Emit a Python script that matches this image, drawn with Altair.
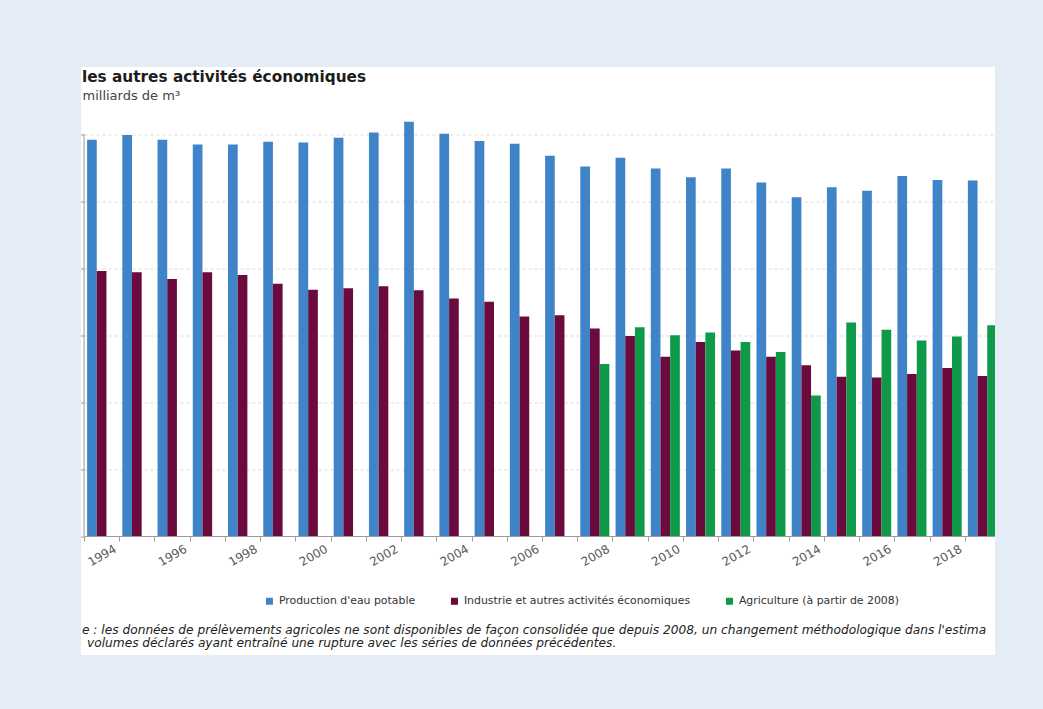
import altair as alt
import pandas as pd

# Annual water withdrawals, in billions of m3
ANNEES = [str(a) for a in range(1994, 2020)]
SERIES = [
    "Production d'eau potable",
    "Industrie et autres activités économiques",
    "Agriculture (à partir de 2008)",
]
COULEURS = ["#3f84c8", "#6b0a3c", "#0f9a4a"]

EAU_POTABLE = [5.92, 5.99, 5.92, 5.85, 5.85, 5.89, 5.88, 5.95, 6.03, 6.19,
               6.01, 5.90, 5.86, 5.68, 5.52, 5.65, 5.49, 5.36, 5.49, 5.28,
               5.06, 5.21, 5.16, 5.38, 5.32, 5.31]
INDUSTRIE = [3.96, 3.94, 3.84, 3.94, 3.90, 3.77, 3.68, 3.70, 3.73, 3.67,
             3.55, 3.50, 3.28, 3.30, 3.10, 2.99, 2.68, 2.90, 2.77, 2.68,
             2.55, 2.38, 2.37, 2.42, 2.51, 2.39]
# agricultural withdrawals only consolidated from 2008 onwards
ANNEES_AGRI = [str(a) for a in range(2008, 2020)]
AGRICULTURE = [2.57, 3.12, 3.00, 3.04, 2.90, 2.75, 2.10, 3.19, 3.08, 2.92,
               2.98, 3.15]

TITRE = "les autres activités économiques"
SOUS_TITRE = "milliards de m³"
NOTE_1 = ("e : les données de prélèvements agricoles ne sont disponibles de façon "
          "consolidée que depuis 2008, un changement méthodologique dans l'estima")
NOTE_2 = ("volumes déclarés ayant entraîné une rupture avec les séries de "
          "données précédentes.")

rows = []
for a, v in zip(ANNEES, EAU_POTABLE):
    rows.append({"annee": a, "serie": SERIES[0], "valeur": v})
for a, v in zip(ANNEES, INDUSTRIE):
    rows.append({"annee": a, "serie": SERIES[1], "valeur": v})
for a, v in zip(ANNEES_AGRI, AGRICULTURE):
    rows.append({"annee": a, "serie": SERIES[2], "valeur": v})
df = pd.DataFrame(rows)

W = 916
H = 468.5
FOND = "#e4edf6"
GRIS = "#9a9a9a"

bars = alt.Chart(df).mark_bar().encode(
    x=alt.X(
        "annee:N",
        sort=ANNEES,
        scale=alt.Scale(domain=ANNEES, paddingInner=0, paddingOuter=0),
        axis=alt.Axis(
            title=None,
            labelAngle=330,
            labelAlign="center",
            labelBaseline="middle",
            labelPadding=14,
            labelOverlap=False,
            labelFont="DejaVu Sans",
            labelFontSize=12,
            labelColor="#5a5a5a",
            labelExpr="parseInt(datum.value) % 2 == 0 ? datum.value : ''",
            tickBand="extent",
            tickSize=5,
            tickColor=GRIS,
            domainColor=GRIS,
            grid=False,
        ),
    ),
    xOffset=alt.XOffset(
        "serie:N",
        sort=SERIES,
        scale=alt.Scale(domain=SERIES, paddingInner=0, paddingOuter=0.32),
    ),
    y=alt.Y(
        "valeur:Q",
        scale=alt.Scale(domain=[0, 7], nice=False),
        axis=alt.Axis(
            title=None,
            values=[0, 1, 2, 3, 4, 5, 6],
            labels=False,
            domain=False,
            tickSize=4,
            tickColor=GRIS,
            grid=True,
            gridColor="#dadada",
            gridDash=[3, 3],
            gridOpacity=alt.condition("datum.value === 0", alt.value(0), alt.value(1)),
        ),
    ),
    color=alt.Color(
        "serie:N",
        sort=SERIES,
        scale=alt.Scale(domain=SERIES, range=COULEURS),
        legend=alt.Legend(
            title=None,
            orient="none",
            legendX=180,
            legendY=528,
            direction="horizontal",
            columns=3,
            symbolType="square",
            symbolSize=49,
            symbolStrokeWidth=0,
            labelFont="DejaVu Sans",
            labelFontSize=10.9,
            labelColor="#333333",
            labelLimit=0,
            labelOffset=4,
            columnPadding=33,
            padding=0,
        ),
    ),
)

# vertical axis line, from 0 to 6
axe_y = alt.Chart(pd.DataFrame({"v": [0]})).mark_rule(color=GRIS).encode(
    x=alt.value(0), y=alt.datum(0), y2=alt.datum(6)
)


def texte(chaine, x, y, **style):
    return alt.Chart(pd.DataFrame({"t": [chaine]})).mark_text(
        align="left", baseline="alphabetic", **style
    ).encode(text="t:N", x=alt.value(x), y=alt.value(y))


titre = texte(TITRE, -2, 14, font="DejaVu Sans", fontWeight="bold",
              fontSize=15.3, color="#1c1c1c")
sous_titre = texte(SOUS_TITRE, -1.5, 32.5, font="DejaVu Sans",
                   fontSize=13, color="#444444")
note_1 = texte(NOTE_1, -2, 566, font="DejaVu Sans", fontStyle="italic",
               fontSize=12.2, color="#222222")
note_2 = texte(NOTE_2, 3, 579, font="DejaVu Sans", fontStyle="italic",
               fontSize=12.2, color="#222222")


def bande(x, x2, y, y2):
    return alt.Chart(pd.DataFrame({"v": [0]})).mark_rect(color=FOND).encode(
        x=alt.value(x), x2=alt.value(x2), y=alt.value(y), y2=alt.value(y2)
    )


# surrounding frame of the white panel
cadre = [
    bande(-300, -3, -300, 900),
    bande(911, 1300, -300, 900),
    bande(-300, 1300, -300, -0.5),
    bande(-300, 1300, 587.5, 900),
]

chart = alt.layer(bars, axe_y, titre, sous_titre, note_1, note_2, *cadre).properties(
    width=W,
    height=H,
    autosize="none",
    padding={"left": 84, "top": 67.5, "right": 43, "bottom": 173},
).configure(background="#ffffff").configure_view(stroke=None)

chart.save("out.html", embed_options={"renderer": "svg", "actions": False})
